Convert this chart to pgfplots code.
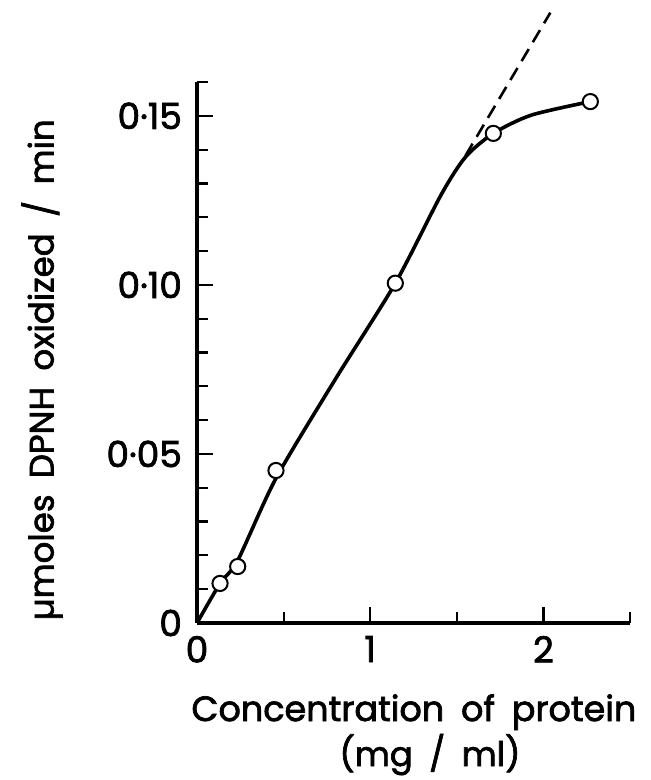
\documentclass[border=0pt]{standalone}
\usepackage{fontspec}
\setmainfont{Poppins}
\newfontfamily\labfont{Poppins}[FakeBold=2, WordSpace=1.8]
\usepackage{pgfplots}
\pgfplotsset{compat=1.18}
\begin{document}
\begin{tikzpicture}
\useasboundingbox (-98.5pt,-78.5pt) rectangle (227pt,311.5pt);
\begin{axis}[
  at={(0,0)}, anchor=south west,
  scale only axis, width=216.5pt, height=270.5pt,
  xmin=0, xmax=2.5, ymin=0, ymax=0.16,
  axis lines=left,
  axis line style={-, line width=2pt},
  tick align=inside,
  xtick={0,1,2}, xticklabels={0,1,2},
  minor xtick={0.5,1.5,2.5},
  ytick={0,0.05,0.1,0.15}, yticklabels={0,0·05,0·10,0·15},
  minor ytick={0.01,0.02,0.03,0.04,0.06,0.07,0.08,0.09,0.11,0.12,0.13,0.14,0.16},
  major tick length=8pt, minor tick length=5.5pt,
  every tick/.style={black, line width=1.1pt},
  ticklabel style={font=\labfont\fontsize{18}{18}\selectfont},
  /pgf/number format/assume math mode=true,
  yticklabel style={anchor=east, xshift=-4pt},
  xticklabel style={anchor=north, yshift=-3pt},
  clip=false,
]
\addplot[black, line width=1.8pt, smooth, tension=0.45] coordinates {
 (0,0) (0.133,0.0117) (0.235,0.0185) (0.456,0.0428) (0.80,0.0722)
 (1.145,0.1005) (1.409,0.1266) (1.55,0.1378) (1.711,0.1448) (1.93,0.1502) (2.271,0.1542)};
\addplot[black, line width=1.3pt, dash pattern=on 7pt off 4pt] coordinates {
 (1.55,0.1382) (2.04,0.1805)};
\addplot[only marks, mark=*, mark size=3.8pt, mark options={fill=white, draw=black, line width=1pt}] coordinates {
 (0.133,0.0117) (0.235,0.0167) (0.456,0.0451) (1.145,0.1005) (1.711,0.1448) (2.271,0.1542)};
\node[rotate=90, anchor=center, font=\labfont\fontsize{17}{17}\selectfont] at ([xshift=-77.5pt]rel axis cs:0,0.468) {µmoles DPNH oxidized / min};
\node[anchor=base, font=\labfont\fontsize{17.5}{17.5}\selectfont] at ([yshift=-49pt]rel axis cs:0.501,0) {Concentration of protein};
\node[anchor=base, font=\labfont\fontsize{17}{17}\selectfont] at ([yshift=-71.5pt]rel axis cs:0.538,0) {(mg / ml)};
\end{axis}
\end{tikzpicture}
\end{document}
